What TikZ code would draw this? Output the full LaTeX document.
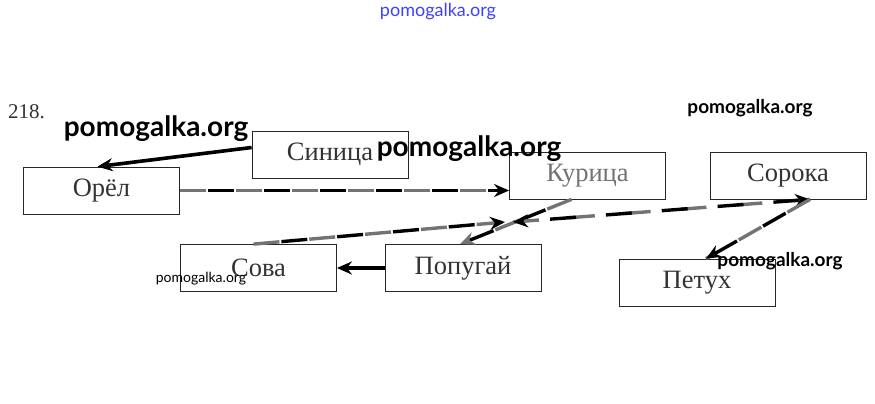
\documentclass[tikz,border=0pt]{standalone}
\usepackage{fontspec}
\setmainfont{Liberation Serif}
\newfontfamily\wmfont{Lato}
\usetikzlibrary{arrows.meta,calc}
\begin{document}
\begin{tikzpicture}[x=1pt,y=-1pt,
  box/.style={draw=black!85, line width=0.8pt, minimum width=156pt, minimum height=47pt, inner sep=0pt,
    font=\fontsize{26.5}{26.5}\selectfont, text=black!80},
  tipb/.style={-{Stealth[length=15pt,width=13pt]}},
  solidarrow/.style={tipb, line width=3.6pt, black},
  grayline/.style={line width=3.4pt, black!55, dash pattern=on 26pt off 30pt},
  blackdash/.style={line width=3.4pt, black, dash pattern=on 26pt off 30pt, dash phase=28pt},
  wm/.style={font=\wmfont\bfseries\fontsize{#1}{#1}\selectfont, text=black, inner sep=0pt}
]
\useasboundingbox (0,0) rectangle (875,404);
\fill[white] (0,0) rectangle (875,404);

\node[font=\fontsize{21}{21}\selectfont, text=black!80, anchor=west, inner sep=0pt] (num) at (8,112) {218.};

\node[box] (sin) at (330,154.5) {Синица};
\node[box] (orel) at (101.5,190.5) {Орёл};
\node[box, text=black!55] (kur) at (587.5,175.5) {Курица};
\node[box] (sor) at (788,175.5) {Сорока};
\node[box] (sova) at (258.5,268) {Сова};
\node[box] (pop) at (463,268) {Попугай};
\node[box] (pet) at (697,282.5) {Петух};

\coordinate (m1) at (505,222);
\coordinate (m2) at (513,222);
\coordinate (sc) at ($(sor.south)+(22,0)$);

% Синица -> Орёл
\draw[solidarrow] ($(sin.west)+(0,-7)$) -- ($(orel.north)+(-4,0)$);
% Попугай -> Сова
\draw[solidarrow] (pop.west) -- (sova.east);
% Орёл -> Курица
\draw[grayline] (orel.east) -- (orel.east -| kur.west);
\draw[blackdash, tipb] (orel.east) -- (orel.east -| kur.west);
% Курица -> Попугай
\draw[blackdash] ($(kur.south)+(-16,0)$) -- ($(pop.north)+(-3,0)$);
\draw[grayline, tipb] ($(kur.south)+(-16,0)$) -- ($(pop.north)+(-3,0)$);
% Сова -> m1
\draw[grayline] ($(sova.north)+(-5,0)$) -- (m1);
\draw[blackdash, tipb] ($(sova.north)+(-5,0)$) -- (m1);
% Сорока <-> m2
\draw[grayline] (m2) -- (sc);
\draw[blackdash, {Stealth[length=15pt,width=13pt]}-{Stealth[length=15pt,width=13pt]}] (m2) -- (sc);
% Сорока -> Петух
\draw[grayline] (sc) -- ($(pet.north)+(9,0)$);
\draw[blackdash, tipb] (sc) -- ($(pet.north)+(9,0)$);

% watermarks
\node[font=\wmfont\fontsize{18}{18}\selectfont, text=blue!75, inner sep=0pt] (w0) at (438,12) {pomogalka.org};
\node[wm=19] (w1) at (750,108) {pomogalka.org};
\node[wm=28] (w2) at (156,129) {pomogalka.org};
\node[wm=28] (w3) at (469,149) {pomogalka.org};
\node[font=\wmfont\fontsize{14}{14}\selectfont, text=black, inner sep=0pt] (w4) at (201,279) {pomogalka.org};
\node[wm=19] (w5) at (780,261) {pomogalka.org};
\end{tikzpicture}
\end{document}
